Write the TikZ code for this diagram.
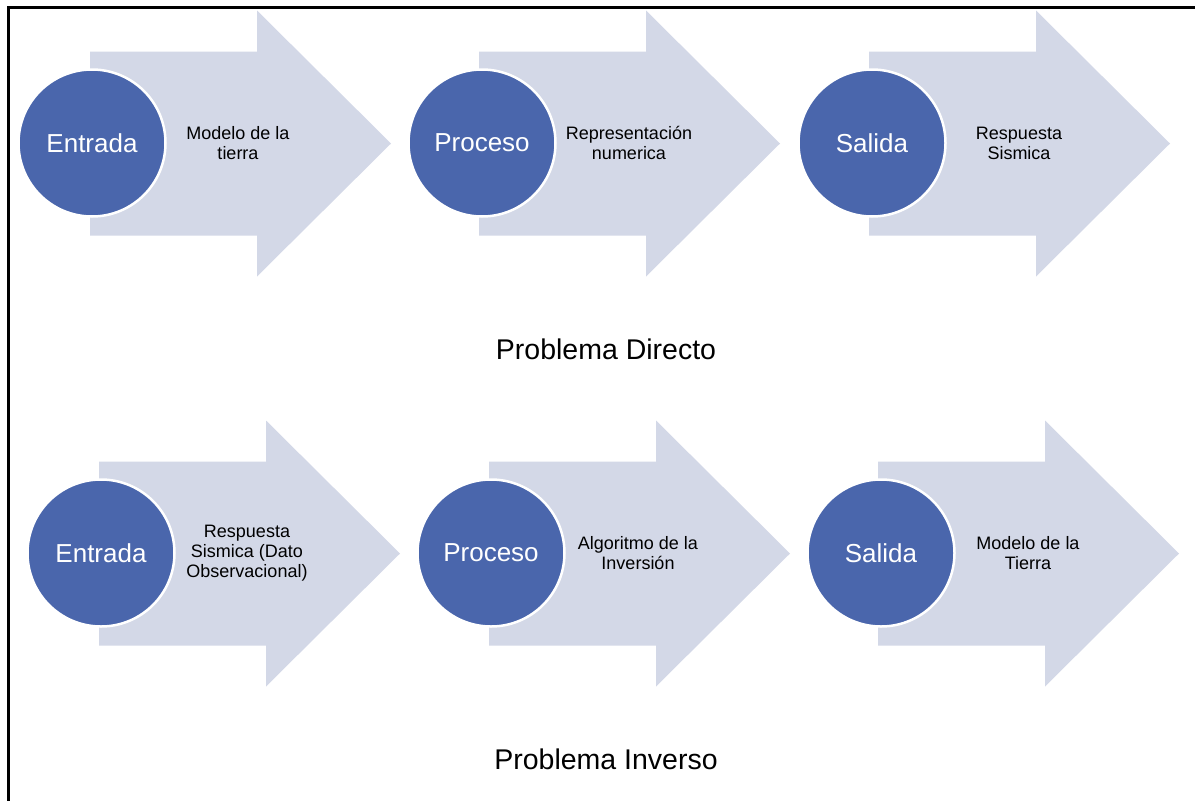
\documentclass[tikz,border=0pt]{standalone}
\usepackage{fontspec}
\setmainfont{Liberation Sans}
\definecolor{circblue}{HTML}{4A66AC}
\definecolor{arrowfill}{HTML}{D3D8E7}
\begin{document}
\begin{tikzpicture}[x=1pt,y=-1pt,
  bigarrow/.style={fill=arrowfill,draw=none},
  circ/.style={circle,fill=circblue,draw=white,line width=2.5pt,minimum size=147pt,inner sep=0pt,
    text=white,font=\fontsize{26}{30}\selectfont},
  desc/.style={align=center,font=\fontsize{18}{20}\selectfont,inner sep=0pt,text=black},
  title/.style={font=\fontsize{28.5}{32}\selectfont,inner sep=0pt},
  pics/flowarrow/.style={code={
    \fill[arrowfill] (0,-92) -- (167,-92) -- (167,-133) -- (301,0) -- (167,133) -- (167,92) -- (0,92) -- cycle;
  }}]
\useasboundingbox (0,0) rectangle (1195,801);
\fill[white] (0,0) rectangle (1195,801);
% frame (top and left edges visible)
\draw[line width=3pt] (8.5,801) -- (8.5,7) -- (1195,7);

% top row
\pic at (90,143.5) {flowarrow};
\pic at (479,143.5) {flowarrow};
\pic at (869,143.5) {flowarrow};
\node[circ] (c1) at (92,143) {Entrada};
\node[circ] (c2) at (482,143) {Proceso};
\node[circ] (c3) at (872,143) {Salida};
\node[desc] (t1) at (238,143) {Modelo de la\\tierra};
\node[desc] (t2) at (629,143) {Representación\\numerica};
\node[desc] (t3) at (1019,143) {Respuesta\\Sismica};
\node[title] (p1) at (606,349) {Problema Directo};

% bottom row
\pic at (99,553.5) {flowarrow};
\pic at (489,553.5) {flowarrow};
\pic at (878,553.5) {flowarrow};
\node[circ] (d1) at (101,553) {Entrada};
\node[circ] (d2) at (491,553) {Proceso};
\node[circ] (d3) at (881,553) {Salida};
\node[desc] (u1) at (247,553) {Respuesta\\Sismica (Dato\\Observacional)};
\node[desc] (u2) at (638,553) {Algoritmo de la\\Inversión};
\node[desc] (u3) at (1028,553) {Modelo de la\\Tierra};
\node[title] (p2) at (606,759) {Problema Inverso};
\end{tikzpicture}
\end{document}
